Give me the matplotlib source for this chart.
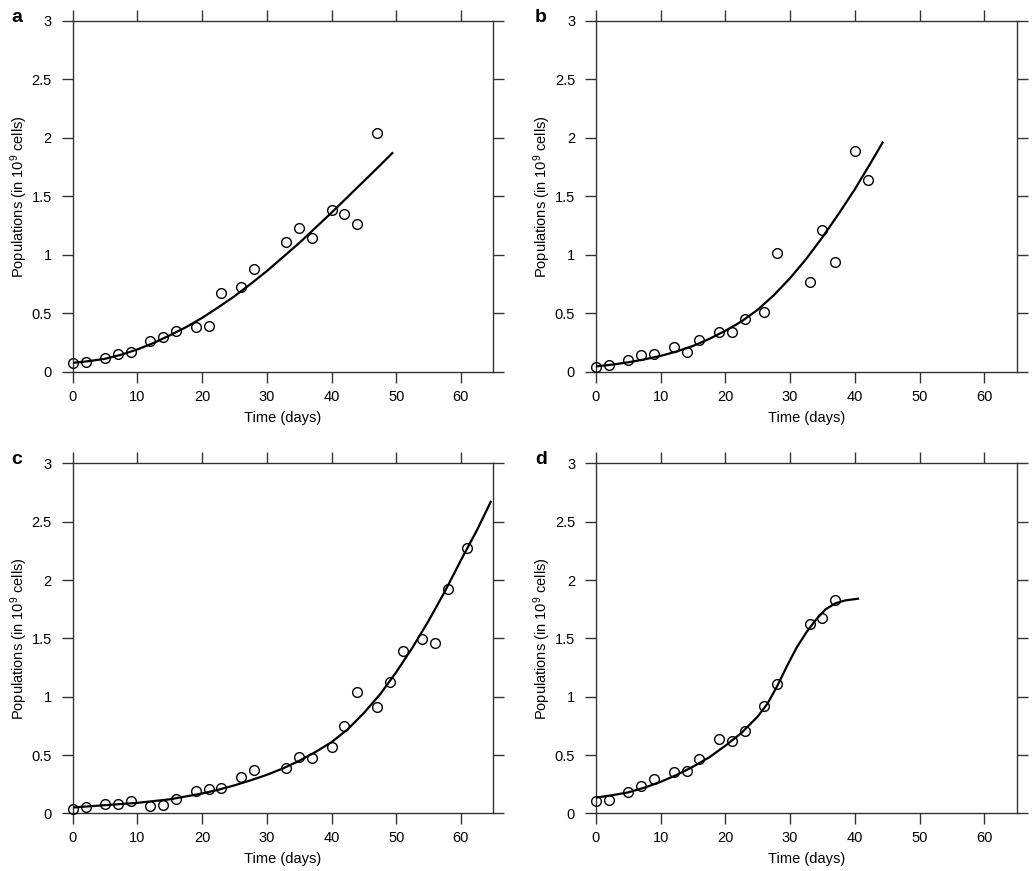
import numpy as np
import matplotlib
matplotlib.use("Agg")
import matplotlib.pyplot as plt

plt.rcParams['font.family'] = ['Liberation Sans', 'DejaVu Sans']
plt.rcParams['mathtext.fontset'] = 'custom'
plt.rcParams['mathtext.rm'] = 'Liberation Sans'
plt.rcParams['mathtext.it'] = 'Liberation Sans:italic'

# observed populations (open circles) and fitted curves, per panel
days_a = [0, 2, 5, 7, 9, 12, 14, 16, 19, 21, 23, 26, 28, 33, 35, 37, 40, 42, 44, 47]
pop_a = [0.07, 0.085, 0.12, 0.15, 0.165, 0.26, 0.30, 0.35, 0.385, 0.39, 0.67, 0.72,
         0.88, 1.105, 1.23, 1.145, 1.385, 1.35, 1.265, 2.04]
fit_t_a = [0, 2.5, 5, 7.5, 10, 12.5, 15, 17.5, 20, 22.5, 25, 27.5, 30, 32.5, 35,
           37.5, 40, 42.5, 45, 47.5, 49.4]
fit_a = [0.075, 0.09, 0.11, 0.145, 0.19, 0.245, 0.31, 0.38, 0.46, 0.55, 0.645, 0.75,
         0.86, 0.98, 1.10, 1.23, 1.36, 1.495, 1.63, 1.765, 1.87]

days_b = [0, 2, 5, 7, 9, 12, 14, 16, 19, 21, 23, 26, 28, 33, 35, 37, 40, 42]
pop_b = [0.043, 0.054, 0.10, 0.143, 0.151, 0.214, 0.168, 0.271, 0.336, 0.342, 0.45,
         0.508, 1.012, 0.764, 1.209, 0.935, 1.888, 1.64]
fit_t_b = [0, 2.5, 5, 7.5, 10, 12.5, 15, 17.5, 20, 22.5, 25, 27.5, 30, 32.5, 35,
           37.5, 40, 42.5, 44.3]
fit_b = [0.045, 0.06, 0.08, 0.105, 0.135, 0.173, 0.22, 0.28, 0.35, 0.43, 0.53, 0.655,
         0.80, 0.965, 1.15, 1.35, 1.56, 1.79, 1.96]

days_c = [0, 2, 5, 7, 9, 12, 14, 16, 19, 21, 23, 26, 28, 33, 35, 37, 40, 42, 44,
          47, 49, 51, 54, 56, 58, 61]
pop_c = [0.037, 0.054, 0.077, 0.08, 0.106, 0.066, 0.071, 0.126, 0.191, 0.209, 0.217,
         0.309, 0.371, 0.386, 0.486, 0.474, 0.571, 0.751, 1.037, 0.909, 1.123, 1.389,
         1.491, 1.46, 1.92, 2.271]
fit_t_c = [0, 5, 10, 15, 20, 22.5, 25, 27.5, 30, 32.5, 35, 37.5, 40, 42.5, 45, 47.5,
           50, 52.5, 55, 57.5, 60, 62.5, 64.6]
fit_c = [0.05, 0.07, 0.09, 0.12, 0.17, 0.202, 0.24, 0.283, 0.33, 0.385, 0.45, 0.525,
         0.61, 0.72, 0.86, 1.02, 1.21, 1.42, 1.65, 1.90, 2.17, 2.43, 2.67]

days_d = [0, 2, 5, 7, 9, 12, 14, 16, 19, 21, 23, 26, 28, 33, 35, 37]
pop_d = [0.109, 0.111, 0.18, 0.237, 0.291, 0.354, 0.36, 0.466, 0.637, 0.62, 0.709,
         0.92, 1.111, 1.623, 1.671, 1.826]
fit_t_d = [0, 2.5, 5, 7.5, 10, 12.5, 15, 17.5, 20, 22.5, 25, 26.5, 28, 29.5, 31, 32.5,
           34, 35.5, 37, 38.5, 40.5]
fit_d = [0.135, 0.155, 0.18, 0.22, 0.27, 0.33, 0.40, 0.48, 0.58, 0.69, 0.83, 0.94,
         1.09, 1.26, 1.42, 1.55, 1.66, 1.75, 1.80, 1.825, 1.84]

panels = [
    ("a", days_a, pop_a, fit_t_a, fit_a, [0.0702, 0.5733, 0.4064, 0.4026]),
    ("b", days_b, pop_b, fit_t_b, fit_b, [0.5758, 0.5733, 0.4064, 0.4026]),
    ("c", days_c, pop_c, fit_t_c, fit_c, [0.0702, 0.0662, 0.4064, 0.4018]),
    ("d", days_d, pop_d, fit_t_d, fit_d, [0.5758, 0.0662, 0.4064, 0.4018]),
]

fig = plt.figure(figsize=(10.35, 8.71), dpi=100)

for letter, t, pop, ft, fy, rect in panels:
    ax = fig.add_axes(rect)
    ax.plot(ft, fy, color='black', lw=1.6, zorder=3)
    ax.plot(t, pop, 'o', mfc='none', mec='black', ms=7, mew=1.0, clip_on=False,
            zorder=4)
    ax.set_xlim(0, 65)
    ax.set_ylim(0, 3)
    ax.set_xticks([0, 10, 20, 30, 40, 50, 60])
    ax.set_yticks([0, 0.5, 1, 1.5, 2, 2.5, 3])
    ax.set_yticklabels(['0', '0.5', '1', '1.5', '2', '2.5', '3'])
    ax.tick_params(direction='out', length=8, width=1.0, color='#333333',
                   labelsize=10.5, top=True, right=True)
    ax.tick_params(axis='x', pad=5)
    ax.tick_params(axis='y', pad=7)
    for s in ax.spines.values():
        s.set_color('#333333')
        s.set_linewidth(1.0)
    ax.set_xlabel('Time (days)', fontsize=10.5, labelpad=5)
    ax.set_ylabel('Populations (in 10$^{9}$ cells)', fontsize=10.5, labelpad=1)
    ax.text(-0.145, 1.01, letter, transform=ax.transAxes, fontsize=14,
            fontweight='bold', ha='left', va='center')

fig.savefig('out.png', dpi=100)
